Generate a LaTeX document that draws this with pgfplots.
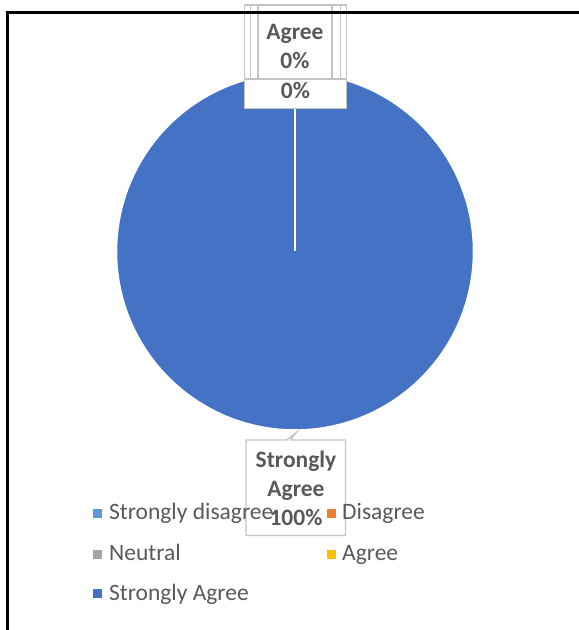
\documentclass[border=0pt]{standalone}
\usepackage{pgfplots}
\pgfplotsset{compat=1.18}
\usepackage{pgfplotstable}
\usepackage{fontspec}
\setmainfont{Carlito}
\definecolor{sdis}{HTML}{5B9BD5}
\definecolor{dis}{HTML}{ED7D31}
\definecolor{neu}{HTML}{A5A5A5}
\definecolor{agr}{HTML}{FFC000}
\definecolor{sagr}{HTML}{4472C4}
\definecolor{txt}{HTML}{595959}
\definecolor{boxc}{HTML}{C4C4C4}

\pgfplotstableread[col sep=comma]{
label,value
Strongly disagree,0
Disagree,0
Neutral,0
Agree,0
Strongly Agree,100
}\piedata

\newcommand{\lf}{\fontsize{23.5}{29}\selectfont}

\begin{document}
\begin{tikzpicture}
\useasboundingbox (0pt,0pt) rectangle (579pt,630pt);
\pgfplotstablegetelem{0}{value}\of\piedata \pgfmathsetmacro\vA{\pgfplotsretval}
\pgfplotstablegetelem{1}{value}\of\piedata \pgfmathsetmacro\vB{\pgfplotsretval}
\pgfplotstablegetelem{2}{value}\of\piedata \pgfmathsetmacro\vC{\pgfplotsretval}
\pgfplotstablegetelem{3}{value}\of\piedata \pgfmathsetmacro\vD{\pgfplotsretval}
\pgfplotstablegetelem{4}{value}\of\piedata \pgfmathsetmacro\vE{\pgfplotsretval}
\pgfmathsetmacro\sA{90}
\pgfmathsetmacro\eA{\sA-3.6*\vA}
\pgfmathsetmacro\eB{\eA-3.6*\vB}
\pgfmathsetmacro\eC{\eB-3.6*\vC}
\pgfmathsetmacro\eD{\eC-3.6*\vD}
\pgfmathsetmacro\eE{\eD-3.6*\vE}
\begin{axis}[at={(117pt,201pt)}, anchor=south west, width=356pt, height=356pt,
  scale only axis, hide axis, clip=false,
  xmin=-1, xmax=1, ymin=-1, ymax=1]
\filldraw[fill=sagr, draw=white, line width=1.5pt] (axis cs:0,0) -- (axis cs:{cos(\eD)},{sin(\eD)}) arc[start angle=\eD, end angle=\eE, radius=178.5pt] -- cycle;
\filldraw[fill=sdis, draw=white, line width=1.5pt] (axis cs:0,0) -- (axis cs:{cos(\sA)},{sin(\sA)}) arc[start angle=\sA, end angle=\eA, radius=178.5pt] -- cycle;
\filldraw[fill=dis, draw=white, line width=1.5pt] (axis cs:0,0) -- (axis cs:{cos(\eA)},{sin(\eA)}) arc[start angle=\eA, end angle=\eB, radius=178.5pt] -- cycle;
\filldraw[fill=neu, draw=white, line width=1.5pt] (axis cs:0,0) -- (axis cs:{cos(\eB)},{sin(\eB)}) arc[start angle=\eB, end angle=\eC, radius=178.5pt] -- cycle;
\filldraw[fill=agr, draw=white, line width=1.5pt] (axis cs:0,0) -- (axis cs:{cos(\eC)},{sin(\eC)}) arc[start angle=\eC, end angle=\eD, radius=178.5pt] -- cycle;
\end{axis}
\begin{scope}[x=1pt,y=1pt]
\clip (0,0) rectangle (579,630);
% stacked zero labels at top
\filldraw[fill=white, draw=boxc, line width=1.3pt] (244.7,551) rectangle (346.7,625);
\filldraw[fill=white, draw=boxc, line width=1.3pt] (250.7,551) rectangle (340.3,625);
\filldraw[fill=white, draw=boxc, line width=1.3pt] (258,551) rectangle (332,625);
\node[anchor=base, text=txt, font=\lf\bfseries, inner sep=0] at (295,590) {Agree};
\node[anchor=base, text=txt, font=\lf\bfseries, inner sep=0] at (295,561.7) {0\%};
\filldraw[fill=white, draw=boxc, line width=1.3pt] (244.7,551) rectangle (346.7,521.3);
\node[anchor=base, text=txt, font=\lf\bfseries, inner sep=0] at (295.5,531) {0\%};
% callout for Strongly Agree
\draw[boxc, line width=1.3pt] (286.7,190) -- (246,190) -- (246,94.5) -- (345.5,94.5) -- (345.5,190) -- (290.5,190) -- (296.5,197.7) -- cycle;
\node[anchor=base, text=txt, font=\lf\bfseries, inner sep=0] at (296,162.5) {Strongly};
\node[anchor=base, text=txt, font=\lf\bfseries, inner sep=0] at (296,133.5) {Agree};
\node[anchor=base, text=txt, font=\lf\bfseries, inner sep=0] at (296,104.5) {100\%};
% legend
\fill[sdis] (93,111.5) rectangle (102,120.5);
\node[anchor=base west, text=txt, font=\lf, inner sep=0] at (109,110) {Strongly disagree};
\fill[dis] (326.8,111.5) rectangle (335.8,120.5);
\node[anchor=base west, text=txt, font=\lf, inner sep=0] at (342,110) {Disagree};
\fill[neu] (93,71) rectangle (102,80);
\node[anchor=base west, text=txt, font=\lf, inner sep=0] at (109,69.5) {Neutral};
\fill[agr] (326.8,71) rectangle (335.8,80);
\node[anchor=base west, text=txt, font=\lf, inner sep=0] at (342,69.5) {Agree};
\fill[sagr] (93,32) rectangle (102,41);
\node[anchor=base west, text=txt, font=\lf, inner sep=0] at (109,30) {Strongly Agree};
% frame
\draw[black, line width=3pt] (7.5,-20) -- (7.5,617.5) -- (600,617.5);
\end{scope}
\end{tikzpicture}
\end{document}
